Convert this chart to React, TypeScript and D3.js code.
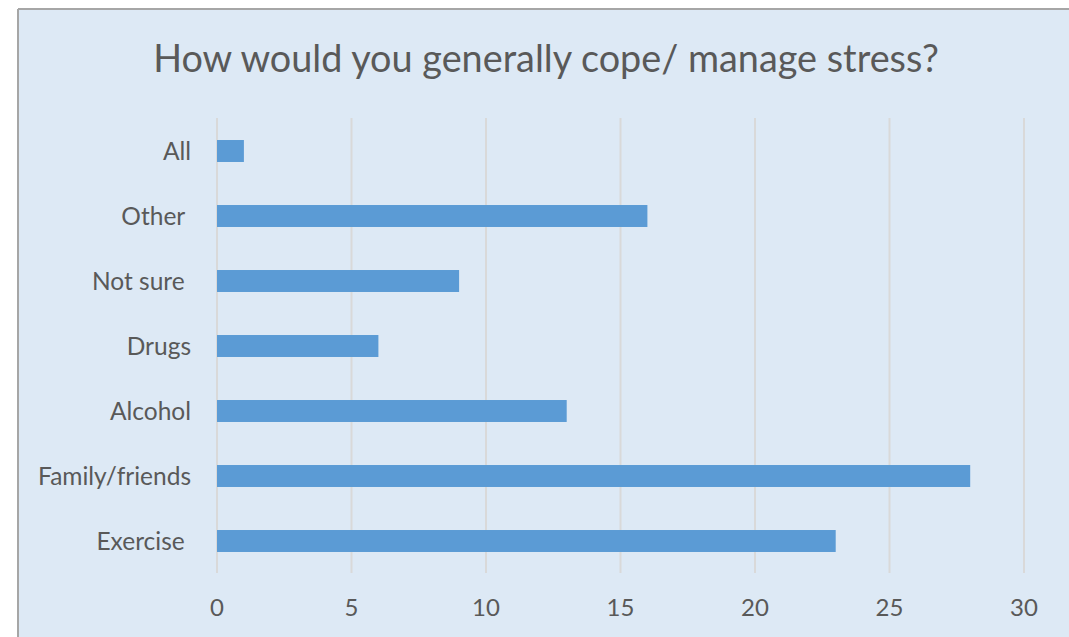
import React from "react";
import * as d3 from "d3";

const categories = ["All", "Other ", "Not sure ", "Drugs", "Alcohol", "Family/friends", "Exercise "];
const values = [1, 16, 9, 6, 13, 28, 23];
const ticks = [0, 5, 10, 15, 20, 25, 30];
const title = "How would you generally cope/ manage stress?";

export default function App() {
  const W = 1069, H = 637;
  const x = d3.scaleLinear().domain([0, 30]).range([217, 1024]);
  const y = d3.scaleBand().domain(categories).range([118.5, 573.5]).paddingInner(0.662).paddingOuter(0.331);
  const font = "Lato, 'Open Sans', sans-serif";
  return (
    <svg width={W} height={H} style={{ position: "absolute", left: 0, top: 0 }}>
      <rect x={0} y={0} width={W} height={H} fill="#ffffff" />
      <rect x={18} y={9} width={W - 18} height={H - 9} fill="#dde9f5" />
      <line x1={18} y1={9} x2={W} y2={9} stroke="#a6a6a6" strokeWidth={2} />
      <line x1={18} y1={9} x2={18} y2={H} stroke="#a6a6a6" strokeWidth={2} />
      <text x={546} y={62} textAnchor="middle" dominantBaseline="middle" fontFamily={font} fontSize={37.8} fill="#595959">{title}</text>
      {ticks.map((t) => (
        <line key={t} x1={x(t)} x2={x(t)} y1={118} y2={573} stroke="#d9d9d9" strokeWidth={2} />
      ))}
      {categories.map((c, i) => (
        <rect key={c} x={x(0)} y={y(c)!} width={x(values[i]) - x(0)} height={y.bandwidth()} fill="#5b9bd5" />
      ))}
      {categories.map((c) => (
        <text key={c} x={191} y={y(c)! + y.bandwidth() / 2 + 2.5} textAnchor="end" dominantBaseline="middle" fontFamily={font} fontSize={24.5} fill="#595959" style={{ whiteSpace: "pre" }}>{c}</text>
      ))}
      {ticks.map((t) => (
        <text key={t} x={x(t)} y={610} textAnchor="middle" dominantBaseline="middle" fontFamily={font} fontSize={24} fill="#595959">{t}</text>
      ))}
    </svg>
  );
}
